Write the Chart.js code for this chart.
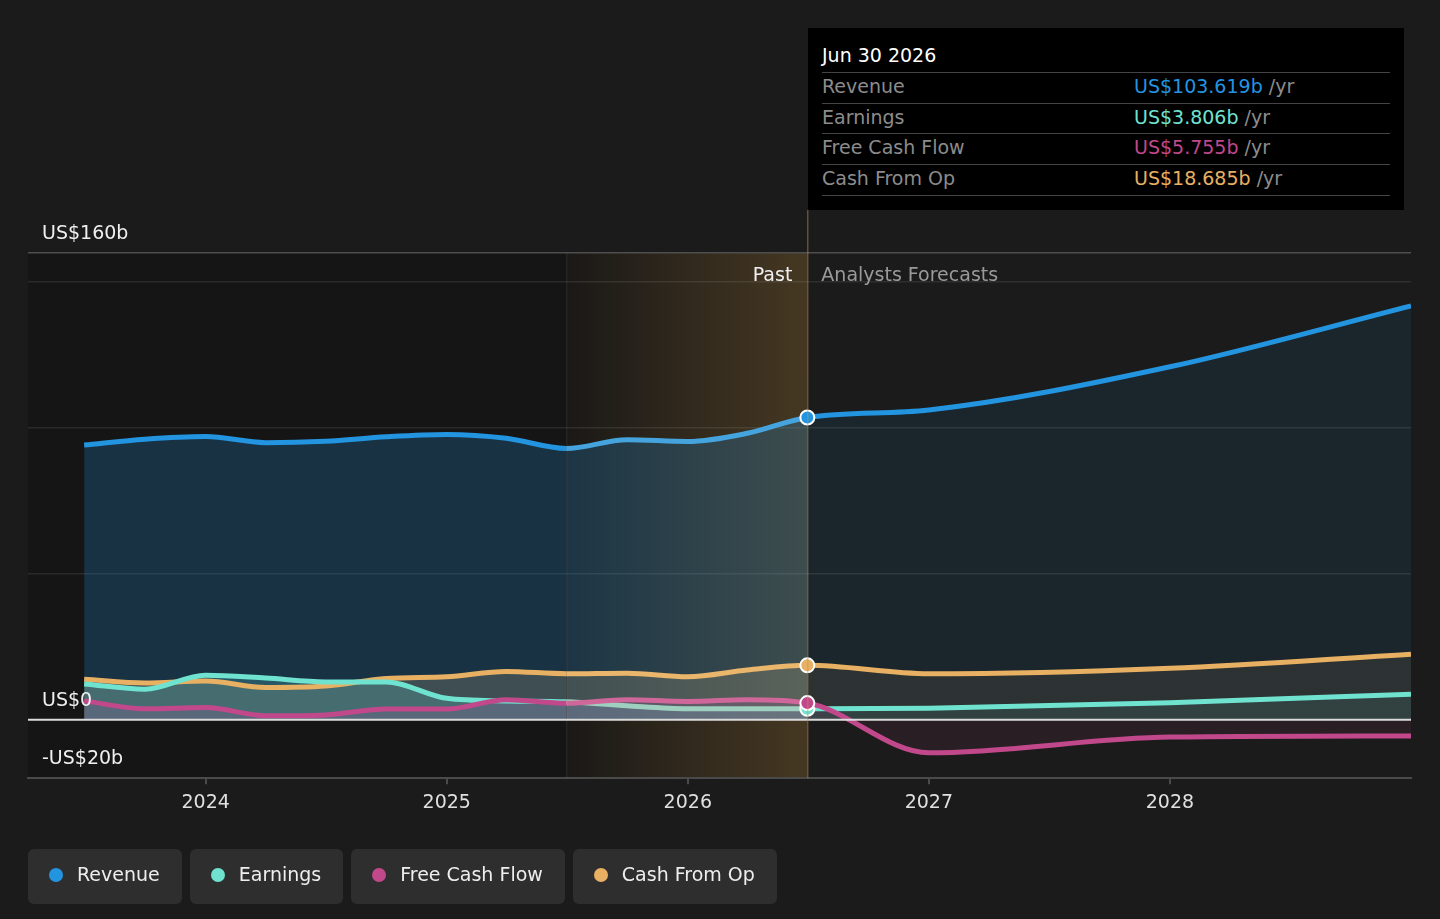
<!DOCTYPE html>
<html lang="en">
<head>
    <meta charset="UTF-8">
    <title>Revenue, Earnings and Cash Flow - Past and Forecast</title>
    <script src="https://cdn.jsdelivr.net/npm/chart.js"></script>
    <style>
        body {
            margin: 0;
            background: #1b1b1b;
            font-family: 'DejaVu Sans', sans-serif;
        }
        #wrap {
            position: relative;
            width: 1440px;
            height: 919px;
        }
        #chart {
            position: absolute;
            left: 0;
            top: 0;
            width: 1440px;
            height: 919px;
        }
        /* fixed info box for the last reported point */
        .tip {
            position: absolute;
            left: 808px;
            top: 28px;
            width: 596px;
            height: 182px;
            background: #000;
        }
        .tip-title {
            position: absolute;
            left: 14px;
            top: 14px;
            color: #fff;
            font-size: 19px;
            line-height: 26px;
        }
        .tip-row {
            position: absolute;
            left: 14px;
            width: 568px;
            height: 30px;
            border-top: 1.5px solid #444;
            font-size: 19px;
            line-height: 26px;
        }
        .tip-row.last {
            border-bottom: 1.5px solid #444;
        }
        .tip-row .lbl { position: absolute; left: 0; color: #8c8c8c; }
        .tip-row .val { position: absolute; left: 312px; white-space: pre; }
        .tip-row .yr { color: #8c8c8c; }
        /* legend buttons */
        .legend {
            position: absolute;
            left: 28px;
            top: 849px;
            display: flex;
            gap: 8px;
        }
        .legend-item {
            display: flex;
            align-items: center;
            box-sizing: border-box;
            height: 55px;
            padding: 0 22px 6px 21px;
            background: #2e2e2e;
            border-radius: 6px;
            color: #eee;
            font-size: 19px;
        }
        .legend-item .dot {
            width: 14px;
            height: 14px;
            border-radius: 50%;
            margin-right: 14px;
            margin-top: 2px;
        }
    </style>
</head>
<body>
<div id="wrap">
    <canvas id="chart" width="1440" height="919"></canvas>
    <div class="tip" id="tip"></div>
    <div class="legend" id="legend"></div>
</div>

<script>
    // Period ends: quarterly trailing values, then analyst forecasts
    const dates = ['2023-06-30', '2023-09-30', '2023-12-31', '2024-03-31', '2024-06-30', '2024-09-30',
        '2024-12-31', '2025-03-31', '2025-06-30', '2025-09-30', '2025-12-31', '2026-03-31',
        '2026-06-30', '2026-12-31', '2027-12-31', '2028-12-31'];

    // US$ billions
    const revenue = [94.2, 96.2, 97.1, 95.0, 95.5, 97.0, 97.8, 96.5, 93.0, 96.0, 95.4, 98.2, 103.619, 106.2, 121.0, 141.9];
    const earnings = [12.3, 10.5, 15.3, 14.3, 13.0, 13.0, 7.4, 6.5, 6.2, 4.8, 3.8, 3.8, 3.806, 4.0, 5.9, 8.8];
    const freeCashFlow = [6.5, 3.8, 4.2, 1.4, 1.7, 3.7, 3.7, 6.9, 5.7, 6.9, 6.3, 6.9, 5.755, -11.3, -5.9, -5.5];
    const cashFromOp = [13.9, 12.6, 13.3, 11.1, 11.6, 14.2, 14.8, 16.6, 15.8, 16.0, 14.8, 17.1, 18.685, 15.8, 17.7, 22.5];

    const seriesNames = ['Revenue', 'Earnings', 'Free Cash Flow', 'Cash From Op'];
    const seriesColors = ['#2394e0', '#6fe3cf', '#c1488b', '#e8b062'];
    const seriesLight = ['#45a4de', '#9fcfbf', '#d0679b', '#e9b66c'];
    const drawOrder = [0, 2, 1, 3];   // lower is drawn on top
    const yearTicks = [2024, 2025, 2026, 2027, 2028];
    const yTicks = [-20, 0, 50, 100, 150, 160];
    const yLabels = { '160': 'US$160b', '0': 'US$0', '-20': '-US$20b' };

    const lastActual = '2026-06-30';
    const highlightStart = '2025-06-30';

    function toYear(s) {
        const d = new Date(s + 'T00:00:00Z');
        const y = d.getUTCFullYear();
        const start = Date.UTC(y, 0, 1), end = Date.UTC(y + 1, 0, 1);
        return y + (d - start + 86400000) / (end - start);
    }

    const xs = dates.map(toYear);
    const pastEnd = toYear(lastActual);
    const hlStart = toYear(highlightStart);
    const lastIdx = dates.indexOf(lastActual);

    function hexA(hex, a) {
        const n = parseInt(hex.slice(1), 16);
        return `rgba(${n >> 16}, ${(n >> 8) & 255}, ${n & 255}, ${a})`;
    }

    // fill is stronger in the past part than in the forecast part
    function fillGradient(color) {
        return (ctx) => {
            const { chart } = ctx;
            const area = chart.chartArea;
            if (!area || !chart.scales.x) return hexA(color, 0.15);
            const px = chart.scales.x.getPixelForValue(pastEnd);
            const f = Math.min(1, Math.max(0, (px - area.left) / (area.right - area.left)));
            const g = chart.ctx.createLinearGradient(area.left, 0, area.right, 0);
            g.addColorStop(0, hexA(color, 0.23));
            g.addColorStop(f, hexA(color, 0.23));
            g.addColorStop(Math.min(1, f + 0.0005), hexA(color, 0.09));
            g.addColorStop(1, hexA(color, 0.09));
            return g;
        };
    }

    const allSeries = [revenue, earnings, freeCashFlow, cashFromOp];

    const datasets = allSeries.map((vals, i) => ({
        label: seriesNames[i],
        order: drawOrder[i],
        data: vals.map((v, j) => ({ x: xs[j], y: v })),
        borderColor: seriesColors[i],
        backgroundColor: fillGradient(seriesColors[i]),
        borderWidth: 5,
        fill: 'origin',
        cubicInterpolationMode: 'monotone',
        pointRadius: (ctx) => ctx.dataIndex === lastIdx ? 7 : 0,
        pointHoverRadius: (ctx) => ctx.dataIndex === lastIdx ? 7 : 0,
        pointBackgroundColor: seriesColors[i],
        pointBorderColor: '#fff',
        pointBorderWidth: 2,
        segment: {
            borderColor: (ctx) => (ctx.p0.parsed.x >= hlStart - 1e-6 && ctx.p1.parsed.x <= pastEnd + 1e-6)
                ? seriesLight[i] : undefined
        }
    }));

    // backgrounds, past/forecast markers and the y labels
    const decor = {
        id: 'decor',
        beforeDraw(chart) {
            const { ctx, chartArea: a, scales: { x } } = chart;
            const xEnd = x.getPixelForValue(pastEnd);
            const xHl = x.getPixelForValue(hlStart);
            ctx.save();
            ctx.fillStyle = '#151515';
            ctx.fillRect(a.left, a.top, xEnd - a.left, a.bottom - a.top);
            const g = ctx.createLinearGradient(xHl, 0, xEnd, 0);
            g.addColorStop(0, 'rgba(200, 150, 70, 0.03)');
            g.addColorStop(1, 'rgba(200, 150, 70, 0.27)');
            ctx.fillStyle = g;
            ctx.fillRect(xHl, a.top, xEnd - xHl, a.bottom - a.top);
            ctx.restore();
        },
        afterDatasetsDraw(chart) {
            const { ctx, chartArea: a, scales: { y } } = chart;
            const y0 = y.getPixelForValue(0);
            ctx.save();
            ctx.strokeStyle = '#dcdcdc';
            ctx.lineWidth = 2;
            ctx.beginPath();
            ctx.moveTo(a.left, y0);
            ctx.lineTo(a.right, y0);
            ctx.stroke();
            ctx.restore();
        },
        afterDraw(chart) {
            const { ctx, chartArea: a, scales: { x, y } } = chart;
            const xEnd = x.getPixelForValue(pastEnd);
            const xHl = x.getPixelForValue(hlStart);
            ctx.save();
            ctx.lineWidth = 1;
            ctx.strokeStyle = 'rgba(255, 255, 255, 0.08)';
            ctx.beginPath();
            ctx.moveTo(xHl + 0.5, a.top);
            ctx.lineTo(xHl + 0.5, a.bottom);
            ctx.stroke();
            ctx.strokeStyle = 'rgba(190, 150, 80, 0.65)';
            ctx.beginPath();
            ctx.moveTo(xEnd + 0.5, 210);
            ctx.lineTo(xEnd + 0.5, a.bottom);
            ctx.stroke();

            ctx.font = '19px "DejaVu Sans"';
            ctx.textBaseline = 'middle';
            ctx.textAlign = 'right';
            ctx.fillStyle = '#f0f0f0';
            ctx.fillText('Past', xEnd - 15, a.top + 23);
            ctx.textAlign = 'left';
            ctx.fillStyle = '#9a9a9a';
            ctx.fillText('Analysts Forecasts', xEnd + 14, a.top + 23);

            ctx.fillStyle = '#f0f0f0';
            Object.keys(yLabels).forEach((k) => {
                ctx.fillText(yLabels[k], a.left + 14, y.getPixelForValue(Number(k)) - 19);
            });
            ctx.restore();
        }
    };

    new Chart(document.getElementById('chart'), {
        type: 'line',
        data: { datasets },
        plugins: [decor],
        options: {
            responsive: false,
            animation: false,
            events: [],
            devicePixelRatio: 1,
            layout: { padding: { top: 253, left: 28, right: 29, bottom: 98 } },
            plugins: {
                legend: { display: false },
                tooltip: { enabled: false },
                filler: { drawTime: 'beforeDatasetsDraw' }
            },
            scales: {
                x: {
                    type: 'linear',
                    min: toYear('2023-04-06'),
                    max: toYear('2028-12-31'),
                    afterBuildTicks: (s) => { s.ticks = yearTicks.map((v) => ({ value: v })); },
                    ticks: {
                        color: '#e0e0e0',
                        font: { family: 'DejaVu Sans', size: 19 },
                        padding: 7,
                        maxRotation: 0,
                        callback: (v) => String(v)
                    },
                    grid: { drawOnChartArea: false, drawTicks: true, tickLength: 6, color: '#4a4a4a', lineWidth: 2 },
                    border: { color: '#4a4a4a', width: 2 }
                },
                y: {
                    min: -20,
                    max: 160,
                    afterBuildTicks: (s) => { s.ticks = yTicks.map((v) => ({ value: v })); },
                    ticks: { display: false },
                    grid: {
                        drawTicks: false,
                        color: (c) => {
                            const v = c.tick && c.tick.value;
                            if (v === 160) return '#4e4e4e';
                            if (v === 0 || v === -20) return 'rgba(0,0,0,0)';
                            return 'rgba(255, 255, 255, 0.09)';
                        },
                        lineWidth: 1.5
                    },
                    border: { display: false }
                }
            }
        }
    });
</script>
<script>
    // info box and legend built from the same arrays
    const tip = document.getElementById('tip');
    const tipRows = [revenue, earnings, freeCashFlow, cashFromOp];
    let html = '<div class="tip-title">Jun 30 2026</div>';
    tipRows.forEach((vals, i) => {
        const top = 44 + i * 30.5;
        html += `<div class="tip-row${i === 3 ? ' last' : ''}" style="top:${top}px">` +
            `<span class="lbl">${seriesNames[i]}</span>` +
            `<span class="val"><span style="color:${seriesColors[i]}">US$${vals[lastIdx].toFixed(3)}b</span> <span class="yr">/yr</span></span></div>`;
    });
    tip.innerHTML = html;

    const legend = document.getElementById('legend');
    legend.innerHTML = seriesNames.map((n, i) =>
        `<div class="legend-item"><span class="dot" style="background:${seriesColors[i]}"></span>${n}</div>`
    ).join('');
</script>
</body>
</html>
